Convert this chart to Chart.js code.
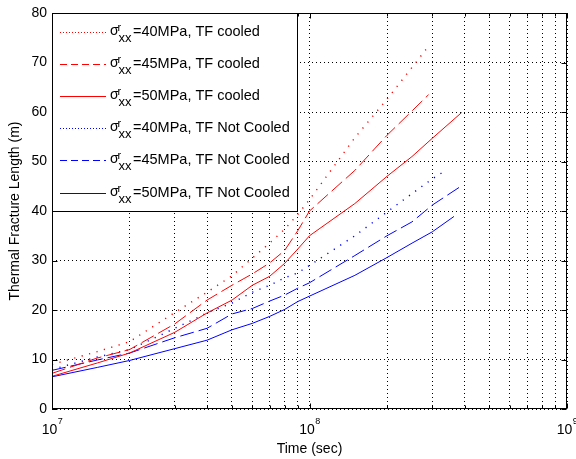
<!DOCTYPE html>
<html><head><meta charset="utf-8">
<script src="https://cdn.jsdelivr.net/npm/chart.js@4"></script>
<style>html,body{margin:0;padding:0;background:#fff;}#wrap{width:576px;height:459px;}</style>
</head><body><div id="wrap"><canvas id="c" width="576" height="459"></canvas></div>
<script>
// ---- data (time in seconds, fracture length in m) ----
const timeSec = [1e7, 1.5e7, 2e7, 3e7, 4e7, 5e7, 6e7, 7e7, 8e7, 9e7, 1e8, 1.5e8, 2e8, 2.5e8];

const len40Cooled = [9.0, 11.6, 13.6, 19.5, 23.6, 26.9, 30.5, 33.5, 36.3, 39.3, 42.3, 54.8, 62.6, 69.0];
const tailTime40Cooled = [2.92e8];
const tailLen40Cooled = [73.5];

const len45Cooled = [7.2, 10.3, 12.0, 17.2, 22.0, 25.0, 27.3, 29.5, 32.0, 36.0, 40.0, 48.2, 55.3, 60.2];
const tailTime45Cooled = [2.9e8];
const tailLen45Cooled = [63.5];

const len50Cooled = [6.6, 9.3, 11.3, 15.5, 19.4, 22.0, 25.0, 26.8, 29.4, 32.3, 35.0, 41.5, 47.0, 51.0];
const tailTime50Cooled = [3e8, 3.9e8];
const tailLen50Cooled = [54.7, 59.9];

const len40NotCooled = [8.0, 10.5, 12.0, 16.3, 19.4, 21.4, 23.6, 25.0, 26.5, 27.5, 29.0, 35.0, 39.8, 43.5];
const tailTime40NotCooled = [3e8, 3.36e8];
const tailLen40NotCooled = [46.5, 48.1];

const len45NotCooled = [7.8, 9.9, 11.3, 14.4, 16.3, 19.2, 20.3, 21.8, 23.0, 24.4, 25.5, 31.0, 35.0, 37.8];
const tailTime45NotCooled = [3e8, 3.82e8];
const tailLen45NotCooled = [41.2, 44.8];

const len50NotCooled = [6.5, 8.4, 9.8, 12.2, 13.9, 16.0, 17.3, 18.7, 20.1, 21.7, 22.8, 27.0, 30.6, 33.5];
const tailTime50NotCooled = [3e8, 3.64e8];
const tailLen50NotCooled = [35.8, 38.9];

const legendLabels = ['=40MPa, TF cooled', '=45MPa, TF cooled', '=50MPa, TF cooled',
                      '=40MPa, TF Not Cooled', '=45MPa, TF Not Cooled', '=50MPa, TF Not Cooled'];
const xTickValues = [1e7, 2e7, 3e7, 4e7, 5e7, 6e7, 7e7, 8e7, 9e7,
                     1e8, 2e8, 3e8, 4e8, 5e8, 6e8, 7e8, 8e8, 9e8, 1e9];
const xDecadeLabels = ['10', '10', '10'];
const xDecadeExponents = ['7', '8', '9'];
const yTickValues = [0, 10, 20, 30, 40, 50, 60, 70, 80];
const xTitle = 'Time (sec)';
const yTitle = 'Thermal Fracture Length (m)';

// ---- styling ----
const FONT = '"Liberation Sans", Arial, Helvetica, sans-serif';
const RED = '#ff0000', BLUE = '#0000ff';
const DOT_PLOT = [1.2, 6.5], DASH_PLOT = [14, 5];
const DOT_LEG = [1, 2], DASH_LEG = [7, 4];

function pts(times, vals, tt, tv) {
  const t = times.concat(tt), v = vals.concat(tv);
  return t.map((x, i) => ({x: x, y: v[i]}));
}
const styles = [
  {c: RED, d: DOT_PLOT, l: DOT_LEG, w: 1.4},
  {c: RED, d: DASH_PLOT, l: DASH_LEG, w: 1},
  {c: RED, d: [], l: [], w: 1},
  {c: BLUE, d: DOT_PLOT, l: DOT_LEG, w: 1.4},
  {c: BLUE, d: DASH_PLOT, l: DASH_LEG, w: 1},
  {c: BLUE, d: [], l: [], w: 1}
];
const seriesData = [
  pts(timeSec, len40Cooled, tailTime40Cooled, tailLen40Cooled),
  pts(timeSec, len45Cooled, tailTime45Cooled, tailLen45Cooled),
  pts(timeSec, len50Cooled, tailTime50Cooled, tailLen50Cooled),
  pts(timeSec, len40NotCooled, tailTime40NotCooled, tailLen40NotCooled),
  pts(timeSec, len45NotCooled, tailTime45NotCooled, tailLen45NotCooled),
  pts(timeSec, len50NotCooled, tailTime50NotCooled, tailLen50NotCooled)
];
const datasets = seriesData.map((d, i) => ({
  label: 'σrxx' + legendLabels[i],
  data: d,
  borderColor: styles[i].c,
  backgroundColor: styles[i].c,
  borderDash: styles[i].d,
  borderWidth: styles[i].w,
  pointRadius: 0,
  tension: 0,
  fill: false
}));

function isDecade(v) {
  const e = Math.log10(v);
  return Math.abs(e - Math.round(e)) < 1e-9;
}

const matlabPlugin = {
  id: 'matlabDecor',
  afterDraw(chart) {
    const ctx = chart.ctx, a = chart.chartArea;
    const L = Math.round(a.left) + 0.5, R = Math.round(a.right) - 0.5;
    const T = Math.round(a.top) + 0.5, B = Math.round(a.bottom) - 0.5;
    const xs = chart.scales.x, ys = chart.scales.y;
    ctx.save();
    ctx.setLineDash([]);
    ctx.strokeStyle = '#000';
    ctx.lineWidth = 1;
    ctx.beginPath();
    yTickValues.forEach(v => {
      const y = Math.round(ys.getPixelForValue(v)) + 0.5;
      ctx.moveTo(L, y); ctx.lineTo(L + 5, y);
      ctx.moveTo(R, y); ctx.lineTo(R - 5, y);
    });
    xTickValues.forEach(v => {
      const x = Math.round(xs.getPixelForValue(v)) + 0.5;
      const len = isDecade(v) ? 5 : 3;
      ctx.moveTo(x, B); ctx.lineTo(x, B - len);
      ctx.moveTo(x, T); ctx.lineTo(x, T + len);
    });
    ctx.stroke();
    ctx.strokeRect(L, T, R - L, B - T);

    // decade tick labels: 10 with superscript exponent
    ctx.fillStyle = '#000';
    ctx.textBaseline = 'alphabetic';
    ctx.textAlign = 'left';
    const decades = xTickValues.filter(isDecade);
    decades.forEach((v, i) => {
      const x = xs.getPixelForValue(v);
      ctx.font = '14px ' + FONT;
      const wb = ctx.measureText(xDecadeLabels[i]).width;
      ctx.font = '9px ' + FONT;
      const we = ctx.measureText(xDecadeExponents[i]).width;
      const x0 = x - (wb + we) / 2;
      ctx.font = '14px ' + FONT;
      ctx.fillText(xDecadeLabels[i], x0, 433.5);
      ctx.font = '9px ' + FONT;
      ctx.fillText(xDecadeExponents[i], x0 + wb + 0.5, 424);
    });

    // legend box
    const bx = L, by = T, bw = 245, bh = 198;
    ctx.fillStyle = '#fff';
    ctx.fillRect(bx, by, bw, bh);
    ctx.strokeStyle = '#000';
    ctx.strokeRect(bx, by, bw, bh);
    for (let i = 0; i < legendLabels.length; i++) {
      const ry = Math.round(a.top + 19 + 32.1 * i) + 0.5;
      ctx.strokeStyle = styles[i].c;
      ctx.lineWidth = 1;
      ctx.setLineDash(styles[i].l);
      ctx.beginPath();
      ctx.moveTo(60, ry); ctx.lineTo(106, ry);
      ctx.stroke();
      ctx.setLineDash([]);
      ctx.fillStyle = '#000';
      ctx.textBaseline = 'middle';
      ctx.textAlign = 'left';
      ctx.font = '14px ' + FONT;
      ctx.fillText('σ', 110, ry - 1);
      ctx.font = '11px ' + FONT;
      ctx.fillText('r', 117.5, ry - 5);
      ctx.font = '13px ' + FONT;
      ctx.fillText('xx', 118.5, ry + 5.5);
      ctx.font = '14.5px ' + FONT;
      ctx.fillText(legendLabels[i], 133, ry - 1);
    }
    ctx.restore();
  }
};

Chart.defaults.color = '#000';
Chart.defaults.font.family = FONT;

new Chart(document.getElementById('c'), {
  type: 'line',
  data: {datasets: datasets},
  options: {
    responsive: false,
    animation: false,
    devicePixelRatio: 1,
    layout: {padding: {top: 13, right: 9, left: 0, bottom: 0}},
    plugins: {legend: {display: false}, tooltip: {enabled: false}},
    scales: {
      x: {
        type: 'logarithmic', position: 'bottom', min: 1e7, max: 1e9,
        afterBuildTicks: s => { s.ticks = xTickValues.map(v => ({value: v})); },
        afterFit: s => { s.height = 50; s.paddingLeft = 0; s.paddingRight = 0; },
        ticks: {
          autoSkip: false, maxRotation: 0, minRotation: 0, padding: 9,
          font: {size: 14, family: FONT}, color: '#000',
          callback: () => ''
        },
        grid: {color: '#000', lineWidth: 1, drawTicks: false},
        border: {display: false, dash: [1, 3]},
        title: {display: true, text: xTitle, font: {size: 14, family: FONT}, color: '#000', padding: {top: 0, bottom: 1}}
      },
      y: {
        type: 'linear', min: 0, max: 80,
        afterBuildTicks: s => { s.ticks = yTickValues.map(v => ({value: v})); },
        afterFit: s => { s.width = 52; s.paddingTop = 0; s.paddingBottom = 0; },
        ticks: {padding: 5, font: {size: 14, family: FONT}, color: '#000'},
        grid: {color: '#000', lineWidth: 1, drawTicks: false},
        border: {display: false, dash: [1, 3]},
        title: {display: true, text: yTitle, font: {size: 14, family: FONT}, color: '#000', padding: {top: 7, bottom: 0}}
      }
    }
  },
  plugins: [matlabPlugin]
});
</script></body></html>
